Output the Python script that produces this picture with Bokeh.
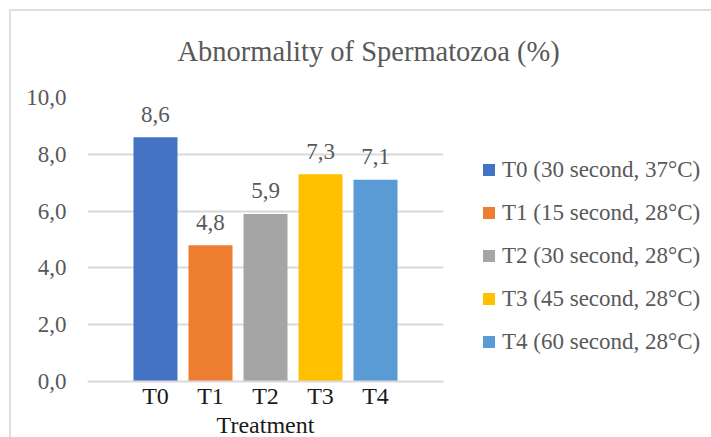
from bokeh.plotting import figure
from bokeh.models import Range1d, FixedTicker, Legend, LegendItem, ColumnDataSource
from bokeh.core.properties import value
from bokeh.embed import file_html
from bokeh.resources import INLINE

# ---- data ----
categories = ["T0", "T1", "T2", "T3", "T4"]
values = [8.6, 4.8, 5.9, 7.3, 7.1]
value_labels = ["8,6", "4,8", "5,9", "7,3", "7,1"]
legend_labels = [
    "T0 (30 second, 37°C)",
    "T1 (15 second, 28°C)",
    "T2 (30 second, 28°C)",
    "T3 (45 second, 28°C)",
    "T4 (60 second, 28°C)",
]
colors = ["#4472C4", "#ED7D31", "#A5A5A5", "#FFC000", "#5B9BD5"]
y_ticks = [0, 2, 4, 6, 8, 10]
y_tick_labels = ["0,0", "2,0", "4,0", "6,0", "8,0", "10,0"]

FONT = "Liberation Serif"
GRAY = "#595959"
GRID = "#D9D9D9"

xs = list(range(len(categories)))

p = figure(frame_width=356, frame_height=284, output_backend="svg", toolbar_location=None,
           x_range=Range1d(-1.236, 5.236), y_range=Range1d(0, 10),
           min_border_left=87, min_border_right=268, min_border_top=97,
           min_border_bottom=56)
p.background_fill_color = "white"
p.border_fill_color = None
p.outline_line_color = None
# chart-area border (top and left edges, like the source image)
p.styles = {
    "background": ("linear-gradient(#DEDEDE, #DEDEDE) 9px 9px / 100% 2px no-repeat, "
                   "linear-gradient(#DEDEDE, #DEDEDE) 9px 9px / 2px 100% no-repeat, white"),
}

# title
p.title.text = "Abnormality of Spermatozoa (%)"
p.title.text_font = FONT
p.title.text_font_size = "28.5px"
p.title.text_font_style = "normal"
p.title.text_color = GRAY
p.title.align = "left"
p.title.offset = 90
p.title.standoff = 62

# bars
renderers = []
for i in xs:
    src = ColumnDataSource(dict(x=[xs[i]], top=[values[i]]))
    r = p.vbar(x="x", top="top", bottom=0, width=0.8, source=src,
               fill_color=colors[i], line_color=None)
    renderers.append(r)

# data labels
lab = ColumnDataSource(dict(x=xs, y=values, t=value_labels))
p.text(x="x", y="y", text="t", source=lab, y_offset=-23,
       text_align="center", text_baseline="alphabetic",
       text_font=value(FONT), text_font_size="23px", text_color=GRAY)

# axes
p.xaxis.ticker = FixedTicker(ticks=xs)
p.xaxis.major_label_overrides = {i: c for i, c in zip(xs, categories)}
p.xaxis.axis_label = "Treatment"
p.xaxis.axis_label_text_font = FONT
p.xaxis.axis_label_text_font_size = "24px"
p.xaxis.axis_label_text_font_style = "normal"
p.xaxis.axis_label_text_color = "#1a1a1a"
p.xaxis.axis_label_standoff = 0
p.xaxis.major_label_text_font = FONT
p.xaxis.major_label_text_font_size = "24px"
p.xaxis.major_label_text_color = "#1a1a1a"
p.xaxis.major_label_standoff = 1
p.xaxis.major_tick_line_color = None
p.xaxis.minor_tick_line_color = None
p.xaxis.major_tick_out = 0
p.xaxis.axis_line_color = GRID
p.xaxis.axis_line_width = 2

p.yaxis.ticker = FixedTicker(ticks=y_ticks)
p.yaxis.major_label_overrides = {t: l for t, l in zip(y_ticks, y_tick_labels)}
p.yaxis.major_label_text_font = FONT
p.yaxis.major_label_text_font_size = "23px"
p.yaxis.major_label_text_color = GRAY
p.yaxis.major_label_standoff = 21
p.yaxis.major_tick_line_color = None
p.yaxis.minor_tick_line_color = None
p.yaxis.major_tick_out = 0
p.yaxis.axis_line_color = None

p.xgrid.grid_line_color = None
p.ygrid.ticker = FixedTicker(ticks=y_ticks)
p.ygrid.grid_line_color = GRID
p.ygrid.grid_line_width = 2

# legend
items = [LegendItem(label=legend_labels[i], renderers=[renderers[i]]) for i in xs]
legend = Legend(items=items, location=(38, 26), orientation="vertical",
                glyph_width=15, glyph_height=15, label_height=27, spacing=16,
                label_standoff=6, padding=0, margin=0,
                label_text_font=FONT, label_text_font_size="23px",
                label_text_color=GRAY, border_line_color=None,
                background_fill_alpha=0)
p.add_layout(legend, "right")

open("out.html", "w").write(file_html(p, INLINE))
